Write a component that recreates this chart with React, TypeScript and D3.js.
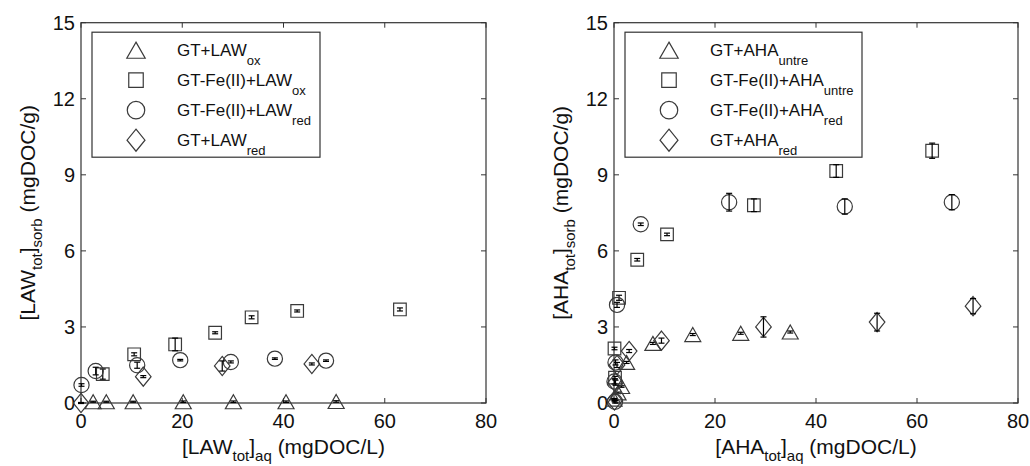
import React from "react";
import * as d3 from "d3";

// ---------- data ----------
const xTicks = [0, 20, 40, 60, 80];
const yTicks = [0, 3, 6, 9, 12, 15];

// Left panel (LAW)
const lawOxX = [2.4, 5.0, 10.3, 20.2, 30.1, 40.5, 50.4];
const lawOxY = [0.05, 0.05, 0.05, 0.05, 0.05, 0.05, 0.06];
const lawOxE = [0.02, 0.02, 0.02, 0.03, 0.03, 0.03, 0.03];

const lawFeOxX = [4.3, 10.5, 18.6, 26.5, 33.7, 42.7, 63.0];
const lawFeOxY = [1.14, 1.92, 2.31, 2.77, 3.38, 3.63, 3.69];
const lawFeOxE = [0.2, 0.06, 0.25, 0.04, 0.06, 0.04, 0.06];

const lawFeRedX = [0.1, 2.9, 11.1, 19.6, 29.6, 38.3, 48.4];
const lawFeRedY = [0.71, 1.26, 1.49, 1.69, 1.62, 1.75, 1.67];
const lawFeRedE = [0.05, 0.15, 0.12, 0.03, 0.04, 0.03, 0.03];

const lawRedX = [0.0, 12.3, 27.9, 45.6];
const lawRedY = [0.0, 1.04, 1.46, 1.54];
const lawRedE = [0.02, 0.04, 0.2, 0.04];

// Right panel (AHA)
const ahaUntreX = [0.0, 0.8, 1.5, 2.5, 7.7, 15.6, 25.1, 34.9];
const ahaUntreY = [0.15, 0.4, 0.65, 1.6, 2.35, 2.7, 2.75, 2.8];
const ahaUntreE = [0.03, 0.03, 0.03, 0.04, 0.04, 0.04, 0.04, 0.04];

const ahaFeUntreX = [0.2, 0.1, 1.0, 4.6, 10.5, 27.7, 44.0, 63.0];
const ahaFeUntreY = [1.0, 2.15, 4.15, 5.65, 6.65, 7.8, 9.15, 9.95];
const ahaFeUntreE = [0.05, 0.05, 0.1, 0.05, 0.05, 0.25, 0.25, 0.3];

const ahaFeRedX = [0.2, 0.1, 0.3, 0.6, 5.3, 22.8, 45.7, 66.9];
const ahaFeRedY = [0.05, 0.85, 1.6, 3.87, 7.05, 7.92, 7.75, 7.92];
const ahaFeRedE = [0.05, 0.1, 0.1, 0.1, 0.05, 0.35, 0.3, 0.3];

const ahaRedX = [0.1, 0.3, 0.6, 3.0, 9.4, 29.6, 52.1, 71.1];
const ahaRedY = [0.1, 0.8, 1.5, 2.05, 2.46, 3.0, 3.19, 3.82];
const ahaRedE = [0.05, 0.1, 0.1, 0.06, 0.1, 0.4, 0.35, 0.3];

// ---------- styling ----------
const FONT = "'Liberation Sans', Arial, Helvetica, sans-serif";
const EDGE = "#3a3a3a";

type Shape = "triangle" | "square" | "circle" | "diamond";

function markerPath(shape: Shape, big = false): string {
  const k = big ? 1.15 : 1;
  const p = d3.path();
  if (shape === "triangle") {
    const w = 8 * k, h = 7 * k;
    p.moveTo(0, -h); p.lineTo(w, h); p.lineTo(-w, h); p.closePath();
  } else if (shape === "square") {
    const s = 6.3 * k;
    p.rect(-s, -s, 2 * s, 2 * s);
  } else if (shape === "circle") {
    p.arc(0, 0, 7.6 * k, 0, 2 * Math.PI);
    p.closePath();
  } else {
    const w = 7.8 * k, h = 9.6 * k;
    p.moveTo(0, -h); p.lineTo(w, 0); p.lineTo(0, h); p.lineTo(-w, 0); p.closePath();
  }
  return p.toString();
}

type Series = { shape: Shape; x: number[]; y: number[]; e: number[]; main: string; sub: string };

type PanelProps = {
  left: number;
  right: number;
  top: number;
  bottom: number;
  series: Series[];
  ylabMain: string;
  xlabMain: string;
  legendW: number;
  ylabX: number;
};

function Panel({ left, right, top, bottom, series, ylabMain, xlabMain, legendW, ylabX }: PanelProps) {
  const x = d3.scaleLinear().domain([0, 80]).range([left, right]);
  const y = d3.scaleLinear().domain([0, 15]).range([bottom, top]);
  const tl = 5;
  const legX = left + 11;
  const legY = top + 9.5;
  const legH = 125;
  return (
    <g fontFamily={FONT}>
      {/* axes box */}
      <rect x={left} y={top} width={right - left} height={bottom - top} fill="none" stroke="#333" strokeWidth={1.2} />
      {xTicks.map((t) => (
        <g key={"xt" + t}>
          <line x1={x(t)} x2={x(t)} y1={bottom} y2={bottom - tl} stroke="#333" />
          <line x1={x(t)} x2={x(t)} y1={top} y2={top + tl} stroke="#333" />
          <text x={x(t)} y={bottom + 25} fontSize={20} textAnchor="middle" fill="#111">{t}</text>
        </g>
      ))}
      {yTicks.map((t) => (
        <g key={"yt" + t}>
          <line x1={left} x2={left + tl} y1={y(t)} y2={y(t)} stroke="#333" />
          <line x1={right} x2={right - tl} y1={y(t)} y2={y(t)} stroke="#333" />
          <text x={left - 6} y={y(t) + 7} fontSize={20} textAnchor="end" fill="#111">{t}</text>
        </g>
      ))}
      {/* data */}
      {series.map((s, si) => (
        <g key={"s" + si}>
          {s.x.map((xv, i) => {
            const cx = x(xv), cy = y(s.y[i]);
            const y1 = y(s.y[i] + s.e[i]), y2 = y(s.y[i] - s.e[i]);
            return (
              <g key={i}>
                <path d={markerPath(s.shape)} transform={`translate(${cx},${cy})`} fill="none" stroke={EDGE} strokeWidth={1.2} />
                <line x1={cx} x2={cx} y1={y1} y2={y2} stroke="#000" strokeWidth={1.2} />
                <line x1={cx - 3} x2={cx + 3} y1={y1} y2={y1} stroke="#000" strokeWidth={1.2} />
                <line x1={cx - 3} x2={cx + 3} y1={y2} y2={y2} stroke="#000" strokeWidth={1.2} />
              </g>
            );
          })}
        </g>
      ))}
      {/* legend */}
      <rect x={legX} y={legY} width={legendW} height={legH} fill="#fff" stroke="#333" strokeWidth={1.2} />
      {series.map((s, i) => {
        const cy = legY + 18 + i * 30;
        return (
          <g key={"l" + i}>
            <path d={markerPath(s.shape, true)} transform={`translate(${legX + 44},${cy})`} fill="none" stroke={EDGE} strokeWidth={1.2} />
            <text x={legX + 85} y={cy + 6} fontSize={17} fill="#111">
              {s.main}
              <tspan fontSize={13} dy={9}>{s.sub}</tspan>
            </text>
          </g>
        );
      })}
      {/* x label */}
      <text x={(left + right) / 2} y={bottom + 51} fontSize={21} textAnchor="middle" fill="#111">
        [{xlabMain}
        <tspan fontSize={15} dy={7}>tot</tspan>
        <tspan dy={-7}>]</tspan>
        <tspan fontSize={15} dy={7}>aq</tspan>
        <tspan dy={-7}> (mgDOC/L)</tspan>
      </text>
      {/* y label */}
      <text transform={`translate(${ylabX},${(top + bottom) / 2}) rotate(-90)`} fontSize={21} textAnchor="middle" fill="#111">
        [{ylabMain}
        <tspan fontSize={15} dy={7}>tot</tspan>
        <tspan dy={-7}>]</tspan>
        <tspan fontSize={15} dy={7}>sorb</tspan>
        <tspan dy={-7}> (mgDOC/g)</tspan>
      </text>
    </g>
  );
}

export default function App() {
  const lawSeries: Series[] = [
    { shape: "triangle", x: lawOxX, y: lawOxY, e: lawOxE, main: "GT+LAW", sub: "ox" },
    { shape: "square", x: lawFeOxX, y: lawFeOxY, e: lawFeOxE, main: "GT-Fe(II)+LAW", sub: "ox" },
    { shape: "circle", x: lawFeRedX, y: lawFeRedY, e: lawFeRedE, main: "GT-Fe(II)+LAW", sub: "red" },
    { shape: "diamond", x: lawRedX, y: lawRedY, e: lawRedE, main: "GT+LAW", sub: "red" },
  ];
  const ahaSeries: Series[] = [
    { shape: "triangle", x: ahaUntreX, y: ahaUntreY, e: ahaUntreE, main: "GT+AHA", sub: "untre" },
    { shape: "square", x: ahaFeUntreX, y: ahaFeUntreY, e: ahaFeUntreE, main: "GT-Fe(II)+AHA", sub: "untre" },
    { shape: "circle", x: ahaFeRedX, y: ahaFeRedY, e: ahaFeRedE, main: "GT-Fe(II)+AHA", sub: "red" },
    { shape: "diamond", x: ahaRedX, y: ahaRedY, e: ahaRedE, main: "GT+AHA", sub: "red" },
  ];
  return (
    <svg width={1030} height={466} style={{ display: "block", position: "absolute", left: 0, top: 0 }}>
      <rect x={0} y={0} width={1030} height={466} fill="#fff" />
      <Panel left={81} right={486} top={22.7} bottom={403} series={lawSeries} ylabMain="LAW" xlabMain="LAW" legendW={228} ylabX={35} />
      <Panel left={614} right={1018} top={22.7} bottom={403} series={ahaSeries} ylabMain="AHA" xlabMain="AHA" legendW={237} ylabX={568} />
    </svg>
  );
}
